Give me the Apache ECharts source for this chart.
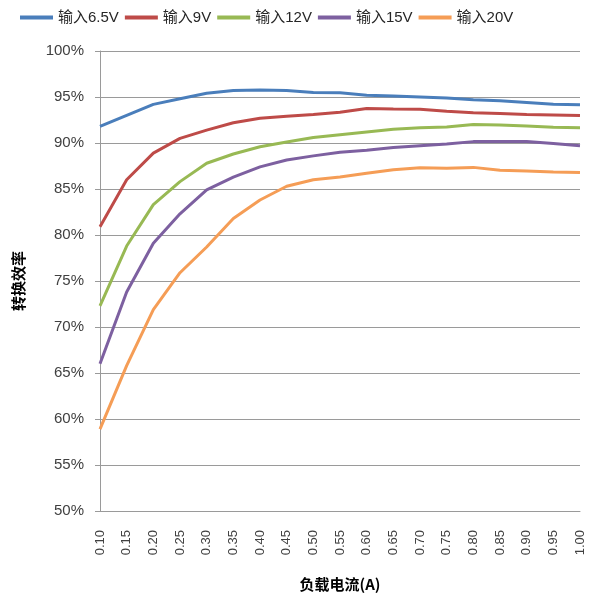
<!DOCTYPE html>
<html>
<head>
<meta charset="utf-8">
<script src="https://cdn.jsdelivr.net/npm/echarts@6/dist/echarts.min.js"></script>
<style>
html,body{margin:0;padding:0;background:#fff;}
#c{width:589px;height:602px;}
</style>
</head>
<body>
<div id="c"></div>
<script>
const xLabels = ['0.10','0.15','0.20','0.25','0.30','0.35','0.40','0.45','0.50','0.55','0.60','0.65','0.70','0.75','0.80','0.85','0.90','0.95','1.00'];
const seriesNames = ['输入6.5V','输入9V','输入12V','输入15V','输入20V'];
const v65 = [91.8,93.0,94.2,94.8,95.4,95.7,95.75,95.7,95.5,95.45,95.2,95.1,95.0,94.9,94.7,94.6,94.4,94.2,94.15];
const v9  = [80.9,86.0,88.9,90.5,91.4,92.2,92.7,92.9,93.1,93.35,93.75,93.7,93.68,93.45,93.3,93.2,93.1,93.05,93.0];
const v12 = [72.3,78.8,83.3,85.8,87.8,88.8,89.6,90.1,90.6,90.9,91.2,91.5,91.65,91.75,92.0,91.95,91.85,91.7,91.65];
const v15 = [66.0,73.8,79.1,82.3,84.9,86.3,87.4,88.15,88.6,89.0,89.2,89.5,89.7,89.9,90.15,90.15,90.15,89.95,89.7];
const v20 = [58.9,65.8,71.9,75.9,78.7,81.8,83.8,85.3,86.0,86.3,86.7,87.1,87.3,87.25,87.35,87.05,86.95,86.85,86.8];
const colors = ['#4A7EBB','#BE4B48','#98B954','#7D60A0','#F59D56'];
const allData = [v65,v9,v12,v15,v20];

const chart = echarts.init(document.getElementById('c'));
chart.setOption({
  animation:false,
  backgroundColor:'#fff',
  color:colors,
  legend:{
    left:15, top:5, itemWidth:33, itemHeight:4, itemGap:6,
    icon:'rect',
    textStyle:{fontSize:15, color:'#262626', fontFamily:'Liberation Sans, Noto Sans CJK SC'},
    data:seriesNames
  },
  grid:{left:100, right:9, top:51, bottom:91},
  xAxis:{
    type:'category', data:xLabels, boundaryGap:false,
    name:'负载电流(A)', nameLocation:'middle', nameGap:66,
    nameTextStyle:{fontSize:15, fontWeight:'bold', color:'#000', fontFamily:'Noto Sans CJK SC'},
    axisLine:{lineStyle:{color:'#9a9a9a'}},
    axisTick:{show:false},
    axisLabel:{rotate:90, margin:19, fontSize:13, color:'#404040', fontFamily:'Liberation Sans', interval:0},
    splitLine:{show:false}
  },
  yAxis:{
    type:'value', min:50, max:100, interval:5,
    name:'转换效率', nameLocation:'middle', nameGap:74,
    nameTextStyle:{fontSize:15, fontWeight:'bold', color:'#000', fontFamily:'Noto Sans CJK SC'},
    axisLine:{show:true, lineStyle:{color:'#9a9a9a'}},
    axisTick:{show:true, length:5, lineStyle:{color:'#9a9a9a'}},
    axisLabel:{formatter:'{value}%', fontSize:15, color:'#404040', margin:16, fontFamily:'Liberation Sans'},
    splitLine:{lineStyle:{color:'#9a9a9a', width:1}}
  },
  series: seriesNames.map((n,i)=>({
    name:n, type:'line', data:allData[i], symbol:'none', smooth:false,
    lineStyle:{width:3, color:colors[i]}
  }))
});
</script>
</body>
</html>
